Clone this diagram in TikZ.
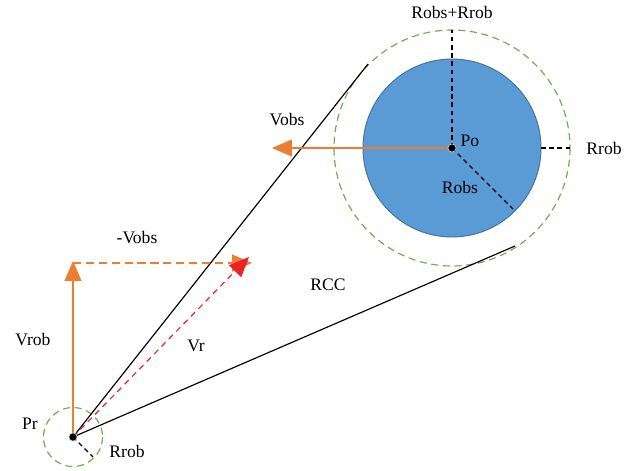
\documentclass[tikz,border=0pt]{standalone}
\usepackage{fontspec}
\setmainfont{Liberation Serif}
\usetikzlibrary{arrows.meta}
\definecolor{myorange}{HTML}{ED7D31}
\definecolor{myred}{HTML}{E8232A}
\definecolor{myblue}{HTML}{5B9BD5}
\definecolor{myblueb}{HTML}{41719C}
\definecolor{mygreen}{HTML}{70AD47}
\begin{document}
\begin{tikzpicture}[x=0.03cm,y=-0.03cm,
  lbl/.style={font=\fontsize{15}{17}\selectfont, inner sep=0pt},
  orarrow/.style={myorange, line width=1pt, -{Triangle[length=20*0.85pt, width=17*0.85pt]}},
  redarrow/.style={myred, line width=1pt, dash pattern=on 5pt off 4pt, -{Triangle[length=20*0.85pt, width=17*0.85pt]}},
  greencirc/.style={mygreen, line width=1pt, dash pattern=on 6pt off 4pt},
  blkdash/.style={black, line width=1pt, dash pattern=on 4pt off 3pt},
  tangent/.style={black, line width=1pt},
  dot/.style={circle, fill=black, draw=gray!40, line width=0.6pt, minimum size=7pt, inner sep=0pt}
]
\useasboundingbox (0,0) rectangle (636,470);
% coordinates
\coordinate (po) at (452,148);
\coordinate (pr) at (73,437);
\coordinate (t1) at (368,64);
\coordinate (t2) at (515,246);
\coordinate (gtop) at (452,30);
\coordinate (bright) at (541,148);
\coordinate (gright) at (570,148);
\coordinate (robsend) at (513,209);
\coordinate (vobsend) at (272,148);
\coordinate (rrobend) at (93,457);
\coordinate (vrobend) at (73,261);
\coordinate (corner) at (73,263);
\coordinate (negend) at (252,263);
\coordinate (vrend) at (249,257);
% obstacle
\draw[greencirc] (po) circle (118);
\fill[myblue, draw=myblueb, line width=0.8pt] (po) circle (89);
\draw[blkdash] (po) -- (gtop);
\draw[blkdash] (bright) -- (gright);
\draw[blkdash] (po) -- (robsend);
% robot circle
\draw[greencirc] (pr) circle (29.5);
\draw[blkdash] (pr) -- (rrobend);
% tangents
\draw[tangent] (pr) -- (t1);
\draw[tangent] (pr) -- (t2);
% velocity arrows
\draw[orarrow] (po) -- (vobsend);
\draw[orarrow] (pr) -- (vrobend);
\draw[orarrow, dash pattern=on 7pt off 4pt] (corner) -- (negend);
\draw[redarrow] (pr) -- (vrend);
% dots
\node[dot] (podot) at (po) {};
\node[dot] (prdot) at (pr) {};
% labels
\node[lbl] (lrr) at (452,12) {Robs+Rrob};
\node[lbl] (lrrob1) at (604,148) {Rrob};
\node[lbl] (lpo) at (470,141) {Po};
\node[lbl] (lrobs) at (460,187) {Robs};
\node[lbl] (lvobs) at (287,120) {Vobs};
\node[lbl] (lneg) at (137,238) {-Vobs};
\node[lbl] (lrcc) at (328,285) {RCC};
\node[lbl] (lvrob) at (33,340) {Vrob};
\node[lbl] (lvr) at (196,346) {Vr};
\node[lbl] (lpr) at (30,424) {Pr};
\node[lbl] (lrrob2) at (127,451) {Rrob};
\end{tikzpicture}
\end{document}
